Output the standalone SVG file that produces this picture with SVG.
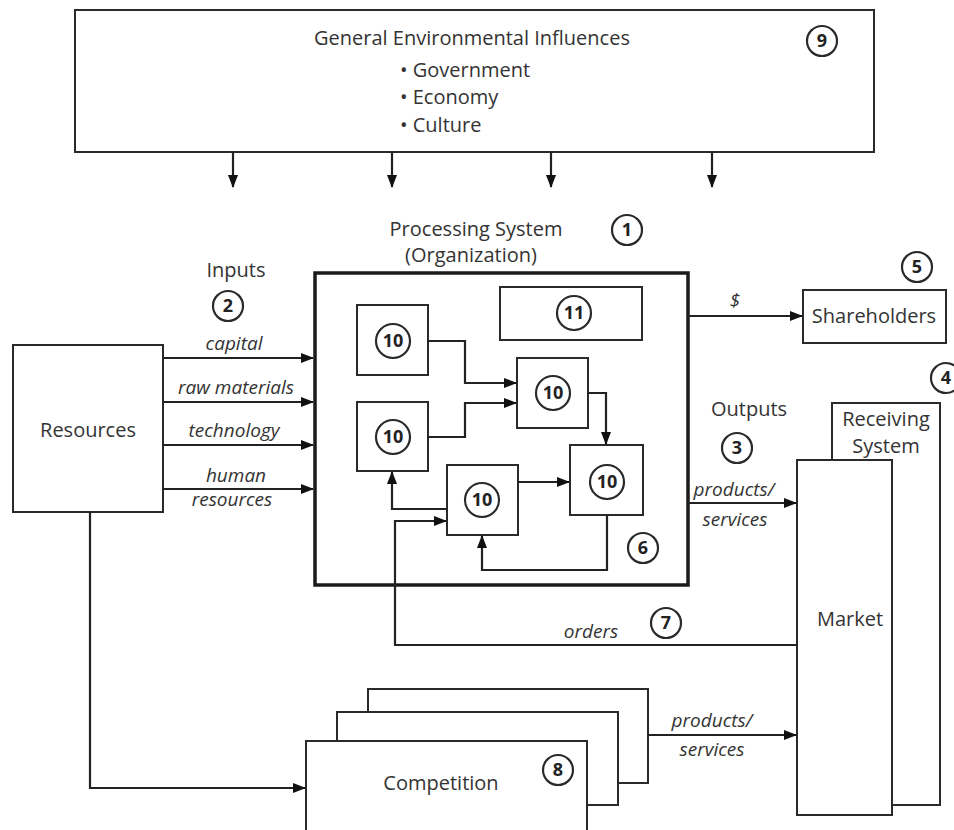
<svg xmlns="http://www.w3.org/2000/svg" width="954" height="830" viewBox="0 0 954 830">
<style>
.b{fill:#fff;stroke:#2a2a2a;stroke-width:2}
.t{font-family:"Open Sans","Liberation Sans",sans-serif;font-size:20px;fill:#333;text-anchor:middle}
.s{font-family:"Open Sans","Liberation Sans",sans-serif;font-size:20px;fill:#333;text-anchor:start}
.i{font-family:"Open Sans","Liberation Sans",sans-serif;font-size:19px;fill:#333;text-anchor:middle;font-style:italic}
.c{fill:#fff;stroke:#2a2a2a;stroke-width:2.2}
.n{font-family:"Open Sans","Liberation Sans",sans-serif;font-size:18px;font-weight:bold;fill:#222;text-anchor:middle}
.l{fill:none;stroke:#222;stroke-width:2.2}
</style>
<defs>
<marker id="a" markerWidth="13" markerHeight="10" refX="12" refY="5" orient="auto" markerUnits="userSpaceOnUse">
<path d="M0,0 L13,5 L0,10 z" fill="#111"/>
</marker>
</defs>
<rect width="954" height="830" fill="#fff"/>

<g id="env">
<rect class="b" x="75" y="10" width="799" height="142"/>
<text class="t" x="472" y="45">General Environmental Influences</text>
<text class="s" x="400" y="77">• Government</text>
<text class="s" x="400" y="104">• Economy</text>
<text class="s" x="400" y="132">• Culture</text>
<circle class="c" cx="822" cy="41" r="15"/><text class="n" x="822" y="47">9</text>
</g>

<g id="proc-label">
<text class="t" x="476" y="236">Processing System</text>
<text class="t" x="471" y="262">(Organization)</text>
<circle class="c" cx="627" cy="230" r="15"/><text class="n" x="627" y="236">1</text>
</g>

<g id="process">
<rect x="315" y="273" width="373" height="312" fill="#fff" stroke="#1a1a1a" stroke-width="3.5"/>
<circle class="c" cx="643" cy="548" r="15"/><text class="n" x="643" y="554">6</text>
</g>

<g id="n11">
<rect class="b" x="500" y="287" width="142" height="53"/>
<circle class="c" cx="574" cy="313" r="17"/><text class="n" x="574" y="319">11</text>
</g>
<g id="n10a">
<rect class="b" x="357" y="305" width="71" height="70"/>
<circle class="c" cx="393" cy="341" r="17"/><text class="n" x="393" y="347">10</text>
</g>
<g id="n10b">
<rect class="b" x="357" y="402" width="71" height="69"/>
<circle class="c" cx="393" cy="437" r="17"/><text class="n" x="393" y="443">10</text>
</g>
<g id="n10c">
<rect class="b" x="517" y="358" width="71" height="70"/>
<circle class="c" cx="553" cy="393" r="17"/><text class="n" x="553" y="399">10</text>
</g>
<g id="n10d">
<rect class="b" x="570" y="445" width="73" height="70"/>
<circle class="c" cx="607" cy="482" r="17"/><text class="n" x="607" y="488">10</text>
</g>
<g id="n10e">
<rect class="b" x="447" y="465" width="71" height="70"/>
<circle class="c" cx="482" cy="500" r="17"/><text class="n" x="482" y="506">10</text>
</g>

<g id="inputs">
<text class="t" x="236" y="277">Inputs</text>
<circle class="c" cx="228" cy="306" r="15"/><text class="n" x="228" y="312">2</text>
</g>

<g id="resources">
<rect class="b" x="13" y="345" width="150" height="167"/>
<text class="t" x="88" y="437">Resources</text>
</g>

<g id="shareholders">
<rect class="b" x="803" y="290" width="143" height="53"/>
<text class="t" x="874" y="323">Shareholders</text>
<circle class="c" cx="917" cy="267" r="15"/><text class="n" x="917" y="273">5</text>
</g>

<g id="receiving">
<rect class="b" x="832" y="403" width="108" height="402"/>
<text class="t" x="886" y="426">Receiving</text>
<text class="t" x="886" y="453">System</text>
<circle class="c" cx="946" cy="378" r="15"/><text class="n" x="946" y="384">4</text>
</g>

<g id="market">
<rect class="b" x="797" y="460" width="95" height="355"/>
<text class="t" x="850" y="626">Market</text>
</g>

<g id="outputs">
<text class="t" x="749" y="416">Outputs</text>
<circle class="c" cx="737" cy="448" r="15"/><text class="n" x="737" y="454">3</text>
</g>

<g id="competition">
<rect class="b" x="368" y="689" width="280" height="94"/>
<rect class="b" x="337" y="712" width="281" height="93"/>
<rect class="b" x="306" y="741" width="281" height="95"/>
<text class="t" x="441" y="790">Competition</text>
<circle class="c" cx="558" cy="770" r="15"/><text class="n" x="558" y="776">8</text>
</g>

<g id="connectors">
<line class="l" x1="233" y1="152" x2="233" y2="187" marker-end="url(#a)"/>
<line class="l" x1="392" y1="152" x2="392" y2="187" marker-end="url(#a)"/>
<line class="l" x1="551" y1="152" x2="551" y2="187" marker-end="url(#a)"/>
<line class="l" x1="712" y1="152" x2="712" y2="187" marker-end="url(#a)"/>

<line class="l" x1="163" y1="358" x2="313" y2="358" marker-end="url(#a)"/>
<line class="l" x1="163" y1="402" x2="313" y2="402" marker-end="url(#a)"/>
<line class="l" x1="163" y1="445" x2="313" y2="445" marker-end="url(#a)"/>
<line class="l" x1="163" y1="489" x2="313" y2="489" marker-end="url(#a)"/>
<text class="i" x="234" y="350">capital</text>
<text class="i" x="236" y="394">raw materials</text>
<text class="i" x="234" y="437">technology</text>
<text class="i" x="236" y="482">human</text>
<text class="i" x="232" y="506">resources</text>

<polyline class="l" points="428,341 465,341 465,383 516,383" marker-end="url(#a)"/>
<polyline class="l" points="428,437 465,437 465,403 516,403" marker-end="url(#a)"/>
<polyline class="l" points="588,393 606,393 606,444" marker-end="url(#a)"/>
<line class="l" x1="518" y1="482" x2="569" y2="482" marker-end="url(#a)"/>
<polyline class="l" points="607,515 607,570 482,570 482,536" marker-end="url(#a)"/>
<polyline class="l" points="447,509 392,509 392,472" marker-end="url(#a)"/>
<polyline class="l" points="797,645 395,645 395,521 446,521" marker-end="url(#a)"/>
<text class="i" x="591" y="638">orders</text>
<circle class="c" cx="666" cy="623" r="15"/><text class="n" x="666" y="629">7</text>

<line class="l" x1="688" y1="316" x2="802" y2="316" marker-end="url(#a)"/>
<text class="i" x="735" y="307">$</text>

<line class="l" x1="688" y1="503" x2="796" y2="503" marker-end="url(#a)"/>
<text class="i" x="734" y="496">products/</text>
<text class="i" x="735" y="526">services</text>

<polyline class="l" points="90,512 90,788 305,788" marker-end="url(#a)"/>

<line class="l" x1="648" y1="735" x2="796" y2="735" marker-end="url(#a)"/>
<text class="i" x="712" y="727">products/</text>
<text class="i" x="712" y="756">services</text>
</g>
</svg>
